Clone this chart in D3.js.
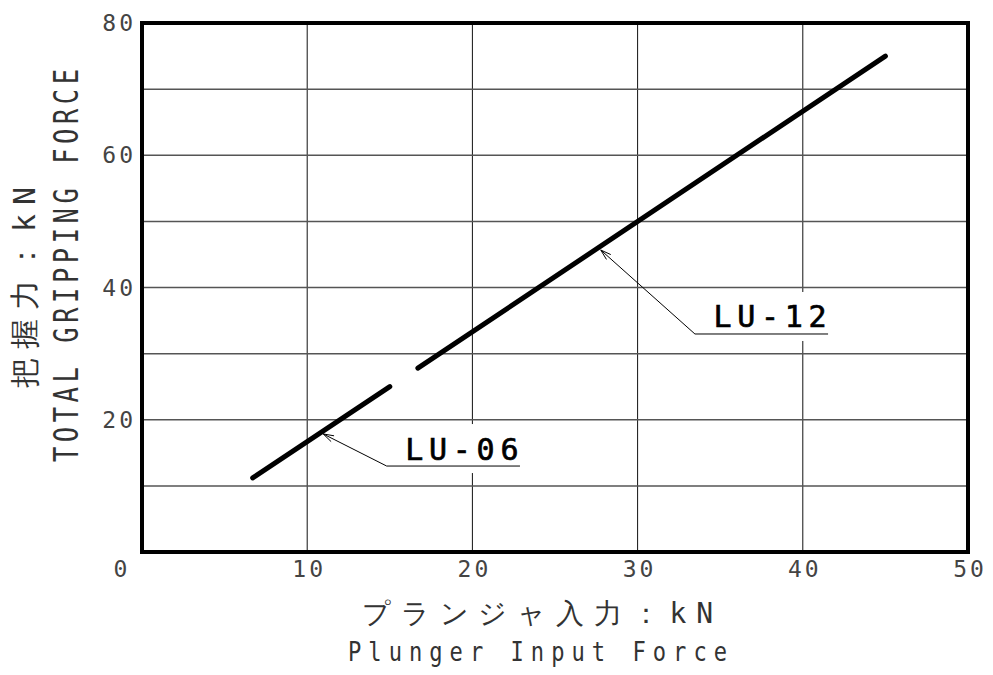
<!DOCTYPE html>
<html>
<head>
<meta charset="utf-8">
<script src="https://cdn.jsdelivr.net/npm/d3@7"></script>
<style>
  body { margin: 0; background: #fff; }
  text { font-family: "DejaVu Sans Mono", "Liberation Mono", monospace; }
</style>
</head>
<body>
<svg width="993" height="675"></svg>
<script>
var xTicks = [0, 10, 20, 30, 40, 50];
var yTicks = [0, 20, 40, 60, 80];
var gridX = [10, 20, 30, 40];
var gridY = [10, 20, 30, 40, 50, 60, 70];

// plunger input force (kN) -> total gripping force (kN)
var lu06X = [6.7, 15], lu06Y = [11.2, 25];
var lu12X = [16.7, 45], lu12Y = [27.8, 75];

// callouts: arrow tip, elbow, end of underline (data units)
var calloutNames = ['LU-06', 'LU-12'];
var calloutTip = [[10.97, 17.85], [27.77, 45.67]];
var calloutElbow = [[14.81, 13.0], [33.47, 32.97]];
var calloutEndX = [22.88, 41.53];

var svg = d3.select('svg');
var x = d3.scaleLinear().domain([0, 50]).range([142, 968]);
var y = d3.scaleLinear().domain([0, 80]).range([552, 23]);

// narrow, thin CAD-like lettering: squeeze glyphs horizontally
function cadText(px, py, rot, sx, size, len, str, family) {
    var t = svg.append('text')
        .attr('transform', 'translate(' + px + ',' + py + ') rotate(' + rot + ') scale(' + sx + ',1)')
        .attr('font-size', size).attr('fill', '#333')
        .attr('textLength', len / sx).attr('lengthAdjust', 'spacing')
        .text(str);
    if (family) t.attr('font-family', family);
    return t;
}

/* ----------- GRID ----------- */
svg.selectAll('line.gx').data(gridX).enter().append('line')
    .attr('x1', function (d) { return x(d); }).attr('x2', function (d) { return x(d); })
    .attr('y1', y(0)).attr('y2', y(80))
    .attr('stroke', '#111').attr('stroke-width', 1);

svg.selectAll('line.gy').data(gridY).enter().append('line')
    .attr('y1', function (d) { return y(d); }).attr('y2', function (d) { return y(d); })
    .attr('x1', x(0)).attr('x2', x(50))
    .attr('stroke', '#555').attr('stroke-width', 1.5);

/* ----------- CALLOUTS ----------- */
var cg = svg.selectAll('g.callout').data(calloutNames).enter().append('g');

// white patch behind label hides the grid
cg.append('rect')
    .attr('x', function (d, i) { return x(calloutElbow[i][0]) + 12; })
    .attr('y', function (d, i) { return y(calloutElbow[i][1]) - 42; })
    .attr('width', function (d, i) { return x(calloutEndX[i]) - x(calloutElbow[i][0]) - 10; })
    .attr('height', 49)
    .attr('fill', '#fff');

cg.append('path')
    .attr('d', function (d, i) {
        var t = calloutTip[i], e = calloutElbow[i];
        return 'M' + x(t[0]) + ',' + y(t[1]) + 'L' + x(e[0]) + ',' + y(e[1]) + 'H' + x(calloutEndX[i]);
    })
    .attr('fill', 'none').attr('stroke', '#000').attr('stroke-width', 1);

// open arrowhead
cg.append('path')
    .attr('d', function (d, i) {
        var t = calloutTip[i], e = calloutElbow[i];
        var tx = x(t[0]), ty = y(t[1]);
        var a = Math.atan2(y(e[1]) - ty, x(e[0]) - tx), len = 11, sp = 0.3;
        return 'M' + (tx + len * Math.cos(a - sp)) + ',' + (ty + len * Math.sin(a - sp)) +
            'L' + tx + ',' + ty +
            'L' + (tx + len * Math.cos(a + sp)) + ',' + (ty + len * Math.sin(a + sp));
    })
    .attr('fill', 'none').attr('stroke', '#000').attr('stroke-width', 1);

cg.append('text')
    .attr('x', function (d, i) { return x(calloutElbow[i][0]) + 18.5; })
    .attr('y', function (d, i) { return y(calloutElbow[i][1]) - 6.5; })
    .attr('font-size', 30)
    .attr('stroke', '#000').attr('stroke-width', 0.7)
    .attr('textLength', function (d, i) { return x(calloutEndX[i]) - x(calloutElbow[i][0]) - 20; })
    .attr('lengthAdjust', 'spacing')
    .text(function (d) { return d; });

/* ----------- LINES ----------- */
var line = d3.line().x(function (d) { return x(d[0]); }).y(function (d) { return y(d[1]); });
var curves = [d3.zip(lu06X, lu06Y), d3.zip(lu12X, lu12Y)];
svg.selectAll('path.curve').data(curves).enter().append('path')
    .attr('d', line)
    .attr('fill', 'none').attr('stroke', '#000')
    .attr('stroke-width', 5).attr('stroke-linecap', 'round');

/* ----------- FRAME ----------- */
svg.append('rect')
    .attr('x', x(0)).attr('y', y(80))
    .attr('width', x(50) - x(0)).attr('height', y(0) - y(80))
    .attr('fill', 'none').attr('stroke', '#000').attr('stroke-width', 4);

/* ----------- TICK LABELS ----------- */
svg.selectAll('text.xt').data(xTicks).enter().append('text')
    .attr('x', function (d) { return d === 0 ? x(d) - 20 : x(d) + 2; })
    .attr('y', 577)
    .attr('text-anchor', 'middle')
    .attr('font-size', 23).attr('letter-spacing', 3).attr('fill', '#444')
    .text(function (d) { return d; });

svg.selectAll('text.yt').data(yTicks.filter(function (d) { return d > 0; })).enter().append('text')
    .attr('x', 136)
    .attr('y', function (d) { return y(d) + 8; })
    .attr('text-anchor', 'end')
    .attr('font-size', 23).attr('letter-spacing', 3).attr('fill', '#444')
    .text(function (d) { return d; });

/* ----------- AXIS TITLES ----------- */
cadText(362, 623, 0, 1, 28, 351, 'プランジャ入力：kN', '"Noto Sans CJK JP", sans-serif')
    .attr('font-weight', 300);
cadText(348, 661, 0, 0.85, 26, 379, 'Plunger Input Force');
cadText(35, 388, -90, 1, 30, 201, '把握力：kN', '"Noto Sans CJK JP", sans-serif')
    .attr('font-weight', 300);
cadText(78, 462, -90, 0.75, 34, 393, 'TOTAL GRIPPING FORCE');
</script>
</body>
</html>
